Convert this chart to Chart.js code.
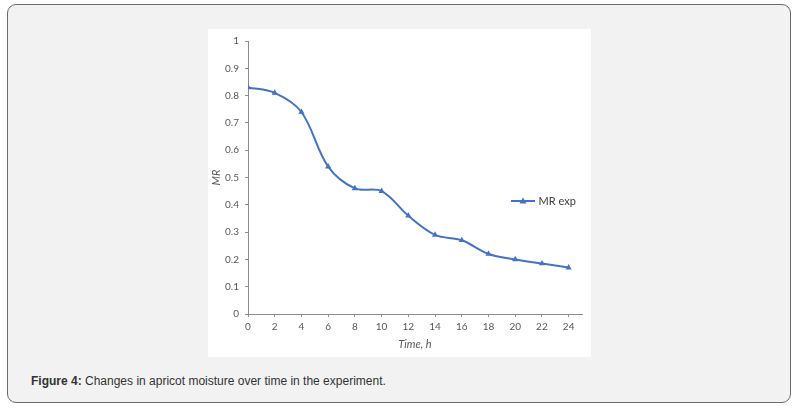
<!DOCTYPE html>
<html>
<head>
<meta charset="utf-8">
<script src="https://cdn.jsdelivr.net/npm/chart.js@4/dist/chart.umd.min.js"></script>
<style>
  html, body { margin: 0; padding: 0; background: #ffffff; }
  body { width: 800px; height: 408px; position: relative; overflow: hidden; }
  .card {
    position: absolute; left: 7px; top: 4px; width: 782px; height: 397px;
    border: 1px solid #6b6b6b; border-radius: 9px; background: #f2f2f2;
  }
  .plot {
    position: absolute; left: 208px; top: 29px; width: 383px; height: 328px;
    background: #ffffff;
  }
  .caption {
    position: absolute; left: 31px; top: 374px; line-height: 14px;
    font-family: "Liberation Sans", Arial, sans-serif; font-size: 12px; color: #333333;
  }
  .caption b { font-weight: bold; }
</style>
</head>
<body>
<div class="card"></div>
<div class="plot"><canvas id="mr-chart" width="383" height="328"></canvas></div>
<div class="caption"><b>Figure 4:</b> Changes in apricot moisture over time in the experiment.</div>

<script>
// valores
const timeHours = [0, 2, 4, 6, 8, 10, 12, 14, 16, 18, 20, 22, 24];
const mrExp = [0.83, 0.81, 0.74, 0.54, 0.46, 0.45, 0.36, 0.29, 0.27, 0.22, 0.20, 0.185, 0.17];
const xTicks = [0, 2, 4, 6, 8, 10, 12, 14, 16, 18, 20, 22, 24];
const yTicks = [0, 0.1, 0.2, 0.3, 0.4, 0.5, 0.6, 0.7, 0.8, 0.9, 1];

const lineColor = "#4472C4";
const axisColor = "#8c8c8c";
const labelColor = "#595959";
const chartFont = "Lato, 'Noto Sans', sans-serif";

// icono de la leyenda: línea con triángulo
let legendIcon = document.createElement("canvas");
legendIcon.width = 24;
legendIcon.height = 8;
let ic = legendIcon.getContext("2d");
ic.strokeStyle = lineColor;
ic.lineWidth = 2;
ic.beginPath();
ic.moveTo(0, 4);
ic.lineTo(24, 4);
ic.stroke();
ic.fillStyle = lineColor;
ic.beginPath();
ic.moveTo(12, 0.5);
ic.lineTo(15.5, 6.5);
ic.lineTo(8.5, 6.5);
ic.closePath();
ic.fill();

// coloca la leyenda dentro del área del gráfico
const legendPlacer = {
  id: "legendPlacer",
  afterLayout(chart) {
    let lg = chart.legend;
    if (!lg) return;
    let pad = lg.options.labels.padding;
    let fs = lg.options.labels.font.size;
    let cx = 305;
    let cy = 172;
    lg.left = cx - pad;
    lg.right = lg.left + lg.width;
    lg.top = cy - pad - fs / 2;
    lg.bottom = lg.top + lg.height;
  },
};

let ctx_mr = document.getElementById("mr-chart").getContext("2d");
let chart_mr = new Chart(ctx_mr, {
  type: "line",
  data: {
    datasets: [
      {
        label: "MR exp",
        data: timeHours.map((t, i) => ({ x: t, y: mrExp[i] })),
        borderColor: lineColor,
        backgroundColor: lineColor,
        borderWidth: 2,
        pointStyle: "triangle",
        pointRadius: 3.6,
        pointBorderWidth: 0,
        tension: 0.35,
        fill: false,
      },
    ],
  },
  options: {
    responsive: false,
    animation: false,
    layout: {
      padding: { top: 11, right: 9, left: 0, bottom: 0 },
    },
    plugins: {
      tooltip: { enabled: false },
      legend: {
        position: "chartArea",
        align: "start",
        labels: {
          usePointStyle: true,
          pointStyle: legendIcon,
          pointStyleWidth: 20,
          padding: 8,
          color: "#404040",
          font: { family: chartFont, size: 11 },
        },
      },
    },
    scales: {
      x: {
        type: "linear",
        min: 0,
        max: 25,
        afterBuildTicks: (scale) => {
          scale.ticks = xTicks.map((v) => ({ value: v }));
        },
        afterFit: (scale) => {
          scale.height = 43;
        },
        grid: {
          drawOnChartArea: false,
          drawTicks: true,
          tickLength: 3,
          color: axisColor,
        },
        border: { color: axisColor, width: 1 },
        ticks: {
          color: labelColor,
          padding: 4,
          maxRotation: 0,
          font: { family: chartFont, size: 10 },
        },
        title: {
          display: true,
          text: "Time, h",
          color: labelColor,
          padding: { top: 0, bottom: 6 },
          font: { family: chartFont, size: 11, style: "italic" },
        },
      },
      y: {
        min: 0,
        max: 1,
        afterBuildTicks: (scale) => {
          scale.ticks = yTicks.map((v) => ({ value: v }));
        },
        afterFit: (scale) => {
          scale.width = 40;
        },
        grid: {
          drawOnChartArea: false,
          drawTicks: true,
          tickLength: 3,
          color: axisColor,
        },
        border: { color: axisColor, width: 1 },
        ticks: {
          color: labelColor,
          padding: 6,
          font: { family: chartFont, size: 10 },
          callback: (value) => String(Math.round(value * 10) / 10),
        },
        title: {
          display: true,
          text: "MR",
          color: labelColor,
          padding: { top: 2, bottom: 0 },
          font: { family: chartFont, size: 11, style: "italic" },
        },
      },
    },
  },
  plugins: [legendPlacer],
});
</script>
</body>
</html>
